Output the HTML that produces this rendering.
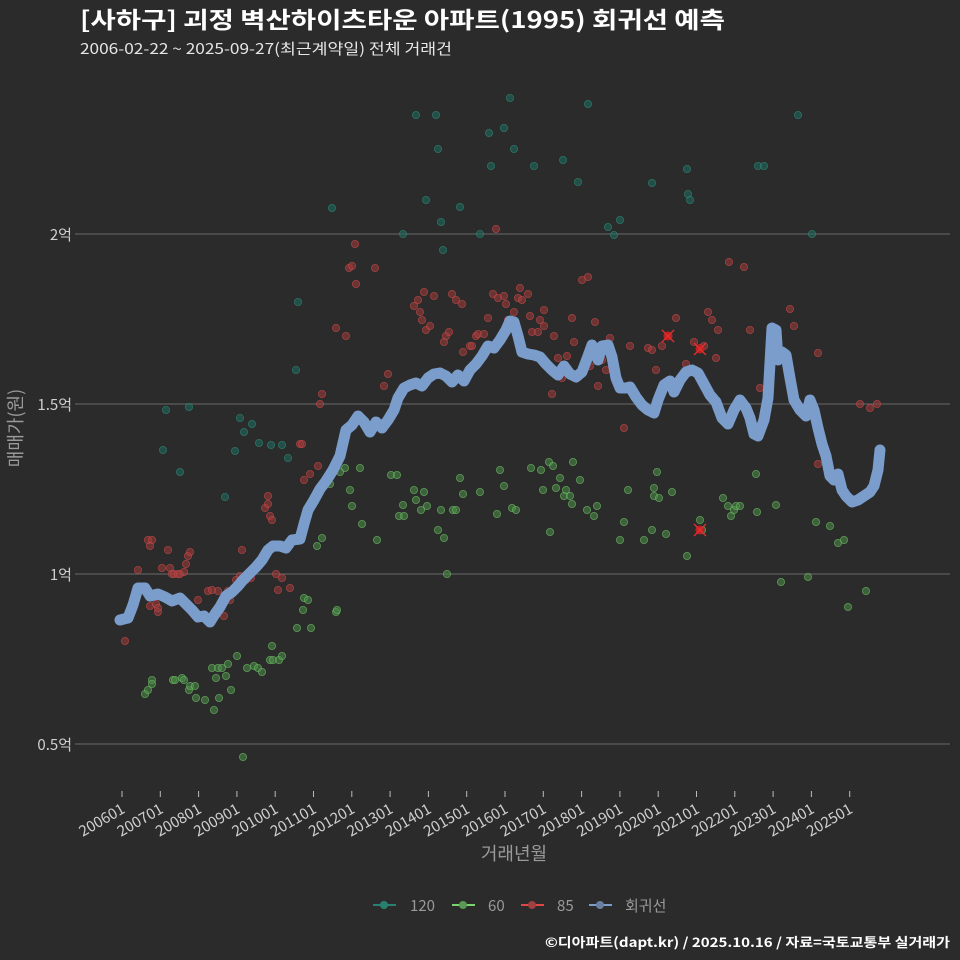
<!DOCTYPE html>
<html><head><meta charset="utf-8"><style>
html,body{margin:0;padding:0;background:#2b2b2b;}
svg{display:block;font-family:"Noto Sans CJK KR","Liberation Sans",sans-serif;}
</style></head><body>
<svg id="s" width="960" height="960" viewBox="0 0 960 960" xmlns="http://www.w3.org/2000/svg">
<rect width="960" height="960" fill="#2b2b2b"/>
<text x="80" y="28" fill="#ffffff" font-size="23" font-weight="bold" textLength="645" lengthAdjust="spacingAndGlyphs">[사하구] 괴정 벽산하이츠타운 아파트(1995) 회귀선 예측</text>
<text x="80" y="54" fill="#e6e6e6" font-size="15" textLength="372" lengthAdjust="spacingAndGlyphs">2006-02-22 ~ 2025-09-27(최근계약일) 전체 거래건</text>
<g stroke="#5e5e5e" stroke-width="1.2">
<line x1="75" x2="950" y1="234" y2="234"/><line x1="75" x2="950" y1="404" y2="404"/>
<line x1="75" x2="950" y1="574" y2="574"/><line x1="75" x2="950" y1="744" y2="744"/>
</g>
<g fill="#cfcfcf" font-size="15" text-anchor="end">
<text x="72" y="240">2억</text><text x="72" y="410">1.5억</text><text x="72" y="580">1억</text><text x="72" y="750">0.5억</text>
</g>
<text transform="translate(22,428) rotate(-90)" fill="#9a9a9a" font-size="18" text-anchor="middle">매매가(원)</text>
<text x="514" y="860" fill="#9a9a9a" font-size="18" text-anchor="middle">거래년월</text>
<g id="xt"></g>
<g id="dots"></g>
<polyline id="reg" fill="none" stroke="#7b9dcb" stroke-width="11" stroke-linejoin="round" stroke-linecap="round"/>
<g font-size="15" fill="#9a9a9a">
<line x1="373" x2="396" y1="905" y2="905" stroke="#2a8070" stroke-width="2"/><circle cx="384" cy="905" r="4" fill="#2a8070"/>
<text x="410" y="911">120</text>
<line x1="452" x2="475" y1="905" y2="905" stroke="#7ad36e" stroke-width="2"/><circle cx="463" cy="905" r="4" fill="#5a9a55"/>
<text x="488" y="911">60</text>
<line x1="521" x2="544" y1="905" y2="905" stroke="#e04848" stroke-width="2"/><circle cx="532" cy="905" r="4" fill="#a04040"/>
<text x="557" y="911">85</text>
<line x1="589" x2="612" y1="905" y2="905" stroke="#7b9dcb" stroke-width="2"/><circle cx="600" cy="905" r="4" fill="#6a80a0"/>
<text x="625" y="911">회귀선</text>
</g>
<text x="950" y="947" fill="#ffffff" font-size="13" font-weight="bold" text-anchor="end" textLength="405" lengthAdjust="spacingAndGlyphs">©디아파트(dapt.kr) / 2025.10.16 / 자료=국토교통부 실거래가</text>
</svg>
<script>
var NS="http://www.w3.org/2000/svg";
function el(t,a,p){var e=document.createElementNS(NS,t);for(var k in a)e.setAttribute(k,a[k]);p.appendChild(e);return e;}
var xt=document.getElementById("xt");
for(var i=0;i<20;i++){var x=122+i*38.3;
el("line",{x1:x,x2:x,y1:791,y2:797,stroke:"#bbb","stroke-width":1},xt);
var t=el("text",{x:x+4,y:812,fill:"#cfcfcf","font-size":15,"text-anchor":"end",transform:"rotate(-30 "+(x+4)+" 812)"},xt);
t.textContent=(2006+i)+"01";}
var d=document.getElementById("dots");
var teal=[[166,410],[163,450],[180,472],[189,407],[225,497],[235,451],[240,418],[244,432],[252,424],[259,443],[271,445],[282,445],[288,458],[296,370],[298,302],[332,208],[403,234],[416,115],[426,200],[436,115],[438,149],[441,222],[443,250],[460,207],[480,234],[489,133],[491,166],[504,128],[510,98],[514,149],[534,166],[563,160],[578,182],[588,104],[608,227],[614,235],[620,220],[652,183],[687,169],[688,194],[690,200],[758,166],[764,166],[798,115],[812,234]];
var green=[[145,694],[148,690],[152,680],[152,684],[173,680],[175,680],[182,678],[184,680],[189,690],[190,686],[195,686],[196,698],[205,700],[216,678],[214,710],[212,668],[218,668],[219,698],[222,668],[226,676],[228,664],[231,690],[237,656],[243,757],[247,668],[254,666],[258,668],[262,672],[270,660],[272,646],[273,660],[279,660],[282,656],[297,628],[303,610],[304,598],[308,600],[311,628],[317,546],[322,538],[330,484],[336,612],[337,610],[340,472],[345,468],[350,490],[352,506],[360,468],[362,524],[377,540],[391,475],[397,475],[399,516],[403,505],[404,516],[414,490],[416,500],[421,510],[424,492],[427,506],[438,530],[441,510],[444,538],[447,574],[453,510],[456,510],[460,478],[463,494],[480,492],[497,514],[500,470],[504,486],[512,508],[516,510],[531,468],[541,470],[543,490],[549,462],[550,532],[553,466],[556,488],[560,478],[564,496],[566,490],[570,496],[572,504],[573,462],[580,480],[587,510],[594,516],[597,506],[620,540],[624,522],[628,490],[644,540],[652,530],[654,488],[654,496],[657,472],[659,498],[666,534],[672,492],[687,556],[700,520],[702,530],[723,498],[728,506],[731,516],[734,510],[736,506],[740,506],[756,474],[757,512],[776,505],[781,582],[808,577],[816,522],[830,526],[838,543],[844,540],[848,607],[866,591]];
var red=[[125,641],[138,570],[148,540],[152,540],[150,546],[150,606],[156,604],[158,612],[158,608],[162,568],[168,550],[170,568],[172,574],[174,574],[178,574],[180,574],[184,572],[186,564],[188,556],[190,552],[198,600],[208,591],[212,590],[218,591],[224,616],[228,591],[230,600],[236,580],[240,576],[242,550],[246,580],[251,578],[254,568],[265,508],[268,504],[268,496],[270,516],[272,520],[276,574],[278,590],[282,578],[290,588],[300,444],[302,444],[304,480],[310,474],[318,466],[320,404],[322,394],[336,328],[346,336],[349,268],[352,266],[355,244],[356,284],[375,268],[384,386],[388,374],[414,306],[418,300],[420,312],[422,320],[424,292],[426,330],[430,326],[434,296],[444,342],[446,336],[449,332],[452,294],[456,300],[462,304],[463,352],[470,346],[472,346],[476,336],[478,334],[484,334],[488,318],[493,294],[496,229],[498,298],[504,296],[506,304],[508,320],[514,312],[518,298],[520,288],[522,300],[528,294],[530,316],[532,332],[538,332],[540,320],[544,310],[544,326],[552,394],[554,336],[558,358],[562,378],[567,356],[572,318],[574,342],[582,280],[588,277],[590,366],[595,322],[598,386],[602,360],[606,370],[610,338],[616,380],[624,428],[630,346],[648,348],[652,350],[656,370],[662,346],[668,336],[676,318],[686,364],[690,370],[694,342],[700,348],[704,346],[708,312],[712,320],[716,358],[718,330],[729,262],[744,267],[750,330],[760,388],[790,309],[794,326],[818,353],[818,464],[860,404],[870,408],[877,404]];
function dots(a,f,s){a.forEach(function(p){el("circle",{cx:p[0],cy:p[1],r:3.6,fill:f,"fill-opacity":0.55,stroke:s,"stroke-opacity":0.7,"stroke-width":0.8},d);});}
dots(teal,"#1f6e60","#2e8a78");dots(green,"#4d8e48","#6fbf66");dots(red,"#a33a3a","#c94a4a");
[[668,336],[700,349],[700,530]].forEach(function(p){el("circle",{cx:p[0],cy:p[1],r:4.5,fill:"#c02020"},d);
el("path",{d:"M"+(p[0]-6)+" "+(p[1]-6)+"L"+(p[0]+6)+" "+(p[1]+6)+"M"+(p[0]+6)+" "+(p[1]-6)+"L"+(p[0]-6)+" "+(p[1]+6),stroke:"#e03030","stroke-width":1.3},d);});
var r=[[120,620],[128,618],[133,605],[138,588],[145,588],[150,596],[158,594],[165,597],[172,601],[180,598],[186,604],[192,610],[198,617],[204,616],[210,622],[215,614],[220,607],[226,596],[232,592],[238,586],[243,580],[250,573],[256,567],[262,560],[268,550],[273,546],[280,546],[286,548],[292,540],[300,539],[304,524],[308,510],[314,500],[320,489],[326,481],[333,470],[340,456],[346,430],[352,425],[358,416],[364,422],[370,432],[376,422],[382,428],[388,420],[394,410],[398,398],[404,388],[410,385],[416,383],[422,386],[428,378],[434,374],[440,373],[446,376],[452,382],[458,375],[464,381],[470,370],[476,364],[482,356],[488,346],[494,348],[500,340],[506,330],[510,321],[514,322],[518,336],[522,352],[528,354],[534,355],[540,357],[546,364],[552,370],[558,375],[564,366],[570,374],[576,377],[582,372],[588,356],[592,345],[598,360],[602,346],[608,345],[612,357],[616,378],[620,388],[626,388],[630,387],[636,397],[642,405],[648,410],[654,413],[658,400],[664,385],[670,381],[674,392],[680,380],[686,372],[692,370],[698,373],[704,384],[710,395],[716,402],[722,418],[728,424],[734,410],[740,400],[746,408],[750,418],[754,434],[758,436],[764,420],[768,398],[772,328],[776,330],[778,360],[782,352],[786,355],[790,378],[794,400],[800,410],[806,416],[810,400],[814,410],[818,428],[822,444],[826,456],[830,476],[834,480],[838,474],[842,490],[846,496],[852,502],[858,500],[864,496],[870,492],[874,486],[878,470],[880,450]];
document.getElementById("reg").setAttribute("points",r.map(function(p){return p.join(",");}).join(" "));
</script>
</body></html>
